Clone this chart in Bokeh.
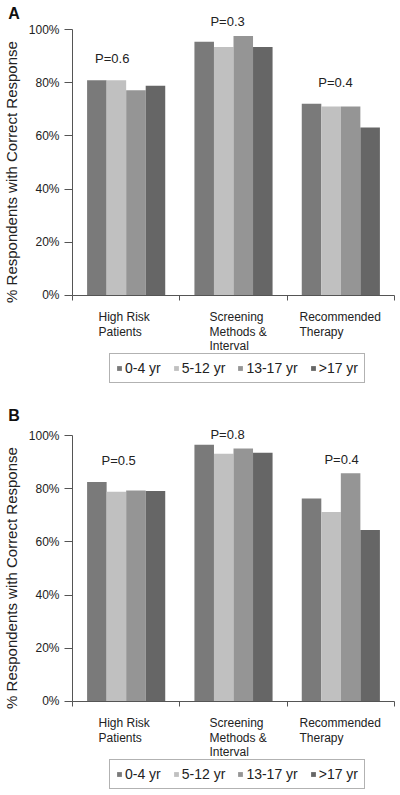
import math
from bokeh.plotting import figure
from bokeh.layouts import column
from bokeh.models import (ColumnDataSource, Range1d, FixedTicker, Label,
                          Legend, LegendItem)
from bokeh.core.properties import value
from bokeh.embed import file_html
from bokeh.resources import INLINE

# ---------------- data ----------------
categories = [["High Risk", "Patients"],
              ["Screening", "Methods &", "Interval"],
              ["Recommended", "Therapy"]]
age_groups = ["0-4 yr", "5-12 yr", "13-17 yr", ">17 yr"]

# Panel A (% correct)
a_0_4 = [81.0, 95.5, 72.1]
a_5_12 = [81.0, 93.5, 71.1]
a_13_17 = [77.2, 97.7, 71.1]
a_gt17 = [78.9, 93.5, 63.2]
a_pvalues = ["P=0.6", "P=0.3", "P=0.4"]

# Panel B (% correct)
b_0_4 = [82.6, 96.6, 76.4]
b_5_12 = [78.9, 93.2, 71.3]
b_13_17 = [79.4, 95.2, 85.9]
b_gt17 = [79.2, 93.6, 64.5]
b_pvalues = ["P=0.5", "P=0.8", "P=0.4"]

y_ticks = [0, 20, 40, 60, 80, 100]
y_tick_labels = ["0%", "20%", "40%", "60%", "80%", "100%"]

# ---------------- layout / style constants ----------------
colors = ["#7a7a7a", "#c0c0c0", "#959595", "#666666"]
FONT = "Liberation Sans"
TXT = "#222222"
AX = "#555555"
BAR_W = 0.182
a_p_pos = {"x": [0.37, 1.445, 2.45], "y": [89.0, 103.0, 80.0]}
b_p_pos = {"x": [0.43, 1.445, 2.507], "y": [90.8, 100.4, 91.1]}
cat_dx = [-0.258, -0.224, -0.385]

FIG_W = 400
LEFT_PX = 72        # x=0 position in px
RIGHT_PX = 394      # x=3 position in px
ZERO_PX = 294.7     # y=0 position from top in px
PXX = (RIGHT_PX - LEFT_PX) / 3.0
PXY = 2.654         # px per percent


def make_panel(letter, letter_y, series, pvals, ppos, fig_h, legend_vy):
    xr = Range1d(-LEFT_PX / PXX, 3 + (FIG_W - RIGHT_PX) / PXX)
    yr = Range1d(-(fig_h - ZERO_PX) / PXY, ZERO_PX / PXY)
    p = figure(width=FIG_W, height=fig_h, output_backend="svg",
               toolbar_location=None, x_range=xr, y_range=yr,
               min_border_left=0, min_border_right=0,
               min_border_top=0, min_border_bottom=0)
    p.outline_line_color = None
    p.grid.visible = False
    p.background_fill_color = "white"
    p.border_fill_color = "white"

    # axes
    yax = p.yaxis[0]
    yax.fixed_location = 0
    yax.ticker = FixedTicker(ticks=y_ticks)
    yax.major_label_overrides = {t: l for t, l in zip(y_ticks, y_tick_labels)}
    yax.bounds = (0, 100)
    yax.axis_line_color = AX
    yax.major_tick_line_color = AX
    yax.minor_tick_line_color = None
    yax.major_tick_out = 8
    yax.major_tick_in = 0
    yax.major_label_standoff = 5
    yax.major_label_text_font = FONT
    yax.major_label_text_font_size = "12px"
    yax.major_label_text_color = TXT

    xax = p.xaxis[0]
    xax.fixed_location = 0
    xax.ticker = FixedTicker(ticks=[0, 1, 2, 3])
    xax.major_label_overrides = {0: "", 1: "", 2: "", 3: ""}
    xax.bounds = (0, 3)
    xax.axis_line_color = AX
    xax.major_tick_line_color = AX
    xax.minor_tick_line_color = None
    xax.major_tick_out = 5
    xax.major_tick_in = 0

    # bars
    items = []
    n = len(series)
    for j, (vals, col, name) in enumerate(zip(series, colors, age_groups)):
        xs = [i + 0.5 + (j - (n - 1) / 2) * BAR_W for i in range(len(vals))]
        src = ColumnDataSource(dict(x=xs, top=vals))
        r = p.vbar(x="x", top="top", width=BAR_W, bottom=0, source=src,
                   fill_color=col, line_color=None)
        items.append(LegendItem(label=name, renderers=[r]))

    # p-value labels
    psrc = ColumnDataSource(dict(x=ppos["x"], y=ppos["y"], t=pvals))
    p.text(x="x", y="y", text="t", source=psrc, text_align="center",
           text_baseline="middle", text_font=value(FONT),
           text_font_size="13px", text_color=TXT)

    # category labels (left-aligned blocks below axis)
    base = -22.0 / PXY
    step = 14.5 / PXY
    for i, lines in enumerate(categories):
        for k, line in enumerate(lines):
            p.add_layout(Label(x=i + 0.5 + cat_dx[i], y=base - k * step,
                               text=line, text_align="left",
                               text_baseline="alphabetic",
                               text_font=FONT, text_font_size="12px",
                               text_color=TXT))

    # y axis title
    p.add_layout(Label(x=(11 - LEFT_PX) / PXX, y=46.4,
                       text="% Respondents with Correct Response",
                       angle=math.pi / 2, text_align="center",
                       text_baseline="middle", text_font=FONT,
                       text_font_size="15px", text_color=TXT))
    # panel letter
    p.add_layout(Label(x=(13.5 - LEFT_PX) / PXX, y=letter_y, text=letter,
                       text_align="center", text_baseline="middle",
                       text_font=FONT, text_font_size="16px",
                       text_font_style="bold", text_color="#111111"))

    leg = Legend(items=items, orientation="horizontal",
                 location=(109, legend_vy), padding=6, spacing=12,
                 margin=0, glyph_width=6, glyph_height=6, label_standoff=3,
                 label_height=12, label_text_font=FONT,
                 label_text_font_size="14px", label_text_color=TXT,
                 border_line_color="#666666", border_line_width=1,
                 background_fill_color="white", background_fill_alpha=1)
    p.add_layout(leg)
    return p


pA = make_panel("A", 106.3, [a_0_4, a_5_12, a_13_17, a_gt17], a_pvalues,
                a_p_pos, 406, 23)
pB = make_panel("B", 107.6, [b_0_4, b_5_12, b_13_17, b_gt17], b_pvalues,
                b_p_pos, 389, 6)

layout = column(pA, pB, spacing=0)
open("out.html", "w").write(file_html(layout, INLINE))
